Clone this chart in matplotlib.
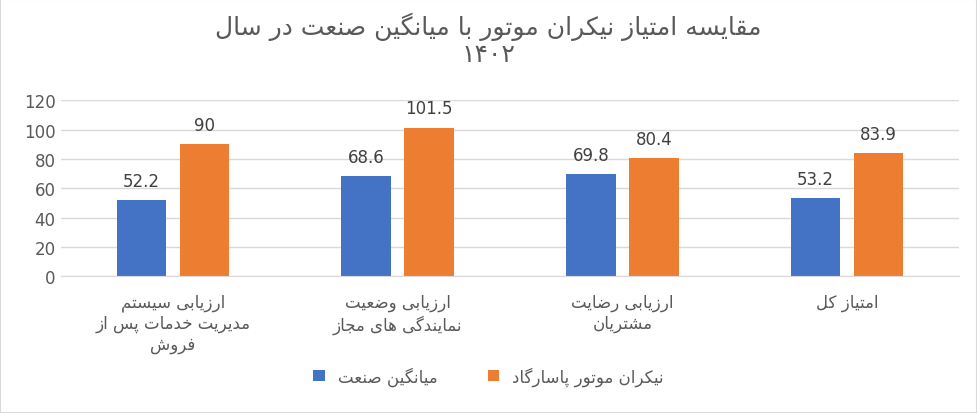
import matplotlib
matplotlib.use("Agg")
import matplotlib.pyplot as plt
import numpy as np

categories = ["ارزیابی سیستم\nمدیریت خدمات پس از\nفروش", "ارزیابی وضعیت\nنمایندگی های مجاز",
              "ارزیابی رضایت\nمشتریان", "امتیاز کل"]
industry = [52.2, 68.6, 69.8, 53.2]
nikran = [90, 101.5, 80.4, 83.9]
series_names = ["میانگین صنعت", "نیکران موتور پاسارگاد"]
title = "مقایسه امتیاز نیکران موتور با میانگین صنعت در سال\n۱۴۰۲"

FORMS = {  # iso, fin, ini, med
 'ا':(0xFE8D,0xFE8E,None,None),'د':(0xFEA9,0xFEAA,None,None),'ر':(0xFEAD,0xFEAE,None,None),
 'ز':(0xFEAF,0xFEB0,None,None),'و':(0xFEED,0xFEEE,None,None),
 'ب':(0xFE8F,0xFE90,0xFE91,0xFE92),'پ':(0xFB56,0xFB57,0xFB58,0xFB59),'ت':(0xFE95,0xFE96,0xFE97,0xFE98),
 'ج':(0xFE9D,0xFE9E,0xFE9F,0xFEA0),'خ':(0xFEA5,0xFEA6,0xFEA7,0xFEA8),'س':(0xFEB1,0xFEB2,0xFEB3,0xFEB4),
 'ش':(0xFEB5,0xFEB6,0xFEB7,0xFEB8),'ص':(0xFEB9,0xFEBA,0xFEBB,0xFEBC),'ض':(0xFEBD,0xFEBE,0xFEBF,0xFEC0),
 'ط':(0xFEC1,0xFEC2,0xFEC3,0xFEC4),'ع':(0xFEC9,0xFECA,0xFECB,0xFECC),'ف':(0xFED1,0xFED2,0xFED3,0xFED4),
 'ق':(0xFED5,0xFED6,0xFED7,0xFED8),'ک':(0xFB8E,0xFB8F,0xFB90,0xFB91),'گ':(0xFB92,0xFB93,0xFB94,0xFB95),
 'ل':(0xFEDD,0xFEDE,0xFEDF,0xFEE0),'م':(0xFEE1,0xFEE2,0xFEE3,0xFEE4),'ن':(0xFEE5,0xFEE6,0xFEE7,0xFEE8),
 'ه':(0xFEE9,0xFEEA,0xFEEB,0xFEEC),'ی':(0xFBFC,0xFBFD,0xFBFE,0xFBFF),
}
DIGITS = set("۰۱۲۳۴۵۶۷۸۹0123456789")

def shape_line(s):
    out = []
    n = len(s)
    for i, c in enumerate(s):
        if c not in FORMS:
            out.append(c); continue
        f = FORMS[c]
        prev = s[i-1] if i > 0 else None
        nxt = s[i+1] if i < n-1 else None
        jp = prev in FORMS and FORMS[prev][2] is not None
        jn = nxt in FORMS and f[2] is not None
        if jp and jn: cp = f[3]
        elif jp: cp = f[1]
        elif jn: cp = f[2]
        else: cp = f[0]
        out.append(chr(cp))
    runs, cur = [], ""
    for c in out:
        if c in DIGITS:
            cur += c
        else:
            if cur: runs.append(cur); cur = ""
            runs.append(c)
    if cur: runs.append(cur)
    return "".join(runs[::-1])

def fa(s):
    return "\n".join(shape_line(l) for l in s.split("\n"))

plt.rcParams['font.family'] = ['DejaVu Sans']
fig = plt.figure(figsize=(9.77, 4.14), dpi=100)
ax = fig.add_axes([0.062, 0.33, 0.92, 0.425])
x = np.arange(len(categories))
w = 0.22
b1 = ax.bar(x - w/2 - 0.03, industry, w, color="#4472C4", label=fa(series_names[0]))
b2 = ax.bar(x + w/2 + 0.03, nikran, w, color="#ED7D31", label=fa(series_names[1]))
for bars, vals in ((b1, industry), (b2, nikran)):
    for r, v in zip(bars, vals):
        ax.text(r.get_x() + r.get_width()/2, v + 7, f"{v:g}", ha="center", va="bottom",
                fontsize=12, color="#404040")
ax.set_ylim(0, 120)
ax.set_yticks(range(0, 121, 20))
ax.set_xlim(-0.5, 3.5)
ax.grid(axis="y", color="#d9d9d9", lw=1)
ax.set_axisbelow(True)
for s in ["top", "right", "left"]:
    ax.spines[s].set_visible(False)
ax.spines["bottom"].set_color("#d9d9d9")
ax.tick_params(axis="y", length=0, labelsize=12, labelcolor="#595959")
ax.tick_params(axis="x", length=0, labelsize=12, labelcolor="#595959", pad=12)
ax.set_xticks(x)
ax.set_xticklabels([fa(c) for c in categories], linespacing=1.2)
fig.text(0.5, 0.97, fa(title), ha="center", va="top", fontsize=18, color="#595959", linespacing=1.1)
fig.legend(loc="lower center", bbox_to_anchor=(0.5, 0.03), ncol=2,
           frameon=False, fontsize=12, labelcolor="#595959", handlelength=0.7, handleheight=0.7,
           columnspacing=3)
fig.patches.append(plt.Rectangle((0, 0), 1, 1, transform=fig.transFigure, fill=False,
                                 edgecolor="#d9d9d9", lw=1.5))
fig.savefig("out.png", dpi=100)
